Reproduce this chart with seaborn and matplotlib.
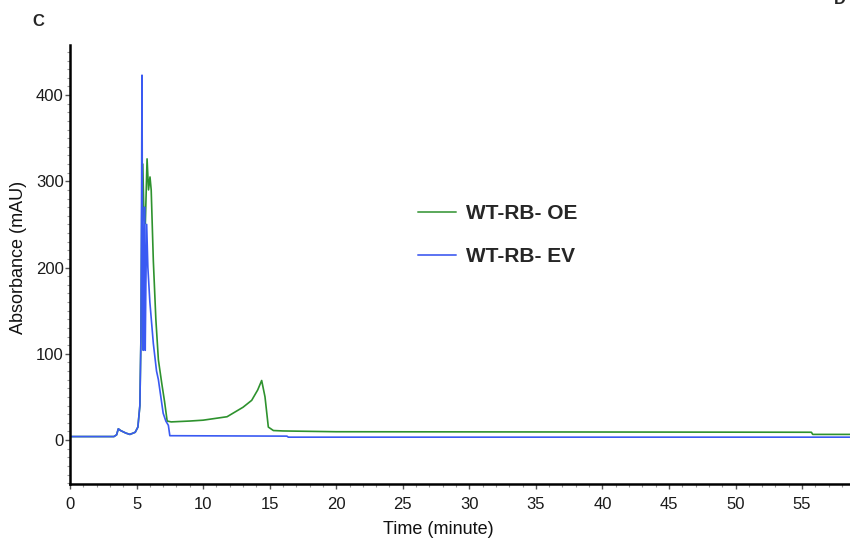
import numpy as np
import pandas as pd
import matplotlib
matplotlib.use("Agg")
import matplotlib.pyplot as plt
import seaborn as sns
from matplotlib.ticker import MultipleLocator
from matplotlib.lines import Line2D

# ---- data ----
ev_time = [0, 3.3, 3.5, 3.63, 3.8, 4.2, 4.5, 4.9, 5.1, 5.25, 5.33, 5.38, 5.41,
           5.44, 5.5, 5.55, 5.6, 5.65, 5.7, 5.76, 5.85, 6.0, 6.26, 6.5, 6.64,
           7.0, 7.2, 7.39, 7.5, 16.3, 16.4, 58.6]
ev_abs = [4, 4, 6, 13, 11, 8, 6.5, 9, 15, 40, 120, 300, 423,
          250, 104, 200, 270, 104, 180, 250, 200, 160, 112, 80, 70,
          31, 22, 17, 5, 4.5, 3.3, 3.3]

oe_time = [0, 3.3, 3.5, 3.63, 3.8, 4.2, 4.5, 4.9, 5.1, 5.25, 5.33, 5.4, 5.47,
           5.56, 5.66, 5.79, 5.9, 6.01, 6.1, 6.26, 6.45, 6.64, 6.9, 7.1, 7.3,
           7.6, 9.0, 10, 11.8, 13.0, 13.65, 14.1, 14.4, 14.65, 14.9, 15.28,
           16, 20, 55.7, 55.8, 58.6]
oe_abs = [4, 4, 6, 13, 11, 8, 6.5, 9, 15, 40, 120, 280, 320,
          255, 251, 326, 290, 305, 290, 208, 140, 93, 65, 45, 22,
          21, 22, 23, 27, 38, 46, 58, 69, 50, 15, 11,
          10.5, 9.6, 9, 6.5, 6.5]

series_labels = ["WT-RB- OE", "WT-RB- EV"]
x_ticks = [0, 5, 10, 15, 20, 25, 30, 35, 40, 45, 50, 55]
y_ticks = [0, 100, 200, 300, 400]

GREEN = "#2e922e"
BLUE = "#3a5af2"

df_oe = pd.DataFrame({"time": oe_time, "abs": oe_abs})
df_ev = pd.DataFrame({"time": ev_time, "abs": ev_abs})

sns.set_style("white")
plt.rcParams["font.family"] = ["Liberation Sans", "DejaVu Sans"]

fig = plt.figure(figsize=(8.5, 5.45), dpi=100)
ax = fig.add_axes([70 / 850, 1 - 484 / 545, 1 - 70 / 850, (484 - 45) / 545])

sns.lineplot(data=df_oe, x="time", y="abs", ax=ax, color=GREEN, lw=1.2,
             estimator=None, sort=False)
sns.lineplot(data=df_ev, x="time", y="abs", ax=ax, color=BLUE, lw=1.2,
             estimator=None, sort=False)

ax.set_xlim(0, 58.6)
ax.set_ylim(-51, 458)
ax.set_xticks(x_ticks)
ax.set_yticks(y_ticks)
ax.xaxis.set_minor_locator(MultipleLocator(1))
ax.yaxis.set_minor_locator(MultipleLocator(10))
ax.tick_params(axis="both", which="both", bottom=True, left=True)
ax.tick_params(axis="both", which="major", direction="out", length=3.5,
               width=1, color="#555555", labelsize=12, labelcolor="#1a1a1a")
ax.tick_params(axis="y", which="major", pad=1)
ax.tick_params(axis="x", which="major", pad=6)
ax.tick_params(axis="both", which="minor", direction="out", length=2,
               width=0.8, color="#999999")

for s in ["top", "right"]:
    ax.spines[s].set_visible(False)
for s in ["left", "bottom"]:
    ax.spines[s].set_color("black")
    ax.spines[s].set_linewidth(1.8)

ax.set_xlabel("Time (minute)", fontsize=13, color="#111111")
ax.set_ylabel("Absorbance (mAU)", fontsize=13, color="#111111")
ax.xaxis.set_label_coords((438 - 70) / 780, (484 - 521) / 439)
ax.yaxis.set_label_coords((27 - 70) / 780, (484 - 257) / 439)
ax.grid(False)

handles = [Line2D([0], [0], color="#5aa85a", lw=1.4),
           Line2D([0], [0], color="#5b73f2", lw=1.4)]
leg = ax.legend(handles, series_labels, loc="upper left",
                bbox_to_anchor=(418 / 850, 1 - 204 / 545),
                bbox_transform=fig.transFigure, frameon=False,
                prop={"weight": "bold", "size": 15}, handlelength=1.8,
                handletextpad=0.5, labelspacing=1.15, borderpad=0,
                borderaxespad=0)

fig.text(38 / 850, 1 - 21 / 545, "C", fontsize=12, fontweight="bold",
         ha="center", va="center")
fig.text(840 / 850, 1.0, "D", fontsize=12, fontweight="bold",
         ha="center", va="center")

fig.savefig("out.png", dpi=100)
